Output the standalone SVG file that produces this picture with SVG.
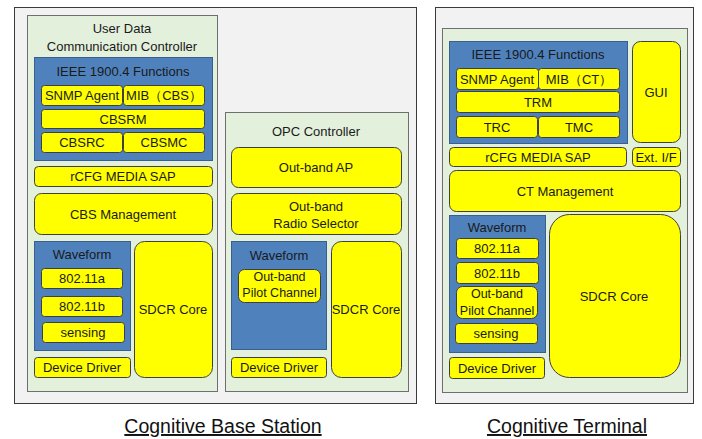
<svg xmlns="http://www.w3.org/2000/svg" width="702" height="439" viewBox="0 0 702 439">
<style>
.frame{fill:#f2f2f2;stroke:#3a3a3a;stroke-width:1}
.ctl{fill:#e3f0dc;stroke:#6f6f6f;stroke-width:1}
.blue{fill:#4f81bd;stroke:#3a5f8c;stroke-width:1}
.y{fill:#ffff00;stroke:#3f3f3f;stroke-width:1}
text{font-family:"Liberation Sans",Arial,sans-serif;font-size:13px;fill:#1a1a1a;text-anchor:middle;dominant-baseline:central}
.sm{font-size:12.5px}
.cap{font-size:19.5px;fill:#111;text-decoration:underline;dominant-baseline:alphabetic}
</style>
<rect width="702" height="439" fill="#ffffff"/>
<g id="base-station">
<rect class="frame" x="14.5" y="7.5" width="402" height="396"/>
<text class="cap" x="223" y="433">Cognitive Base Station</text>
</g>
<g id="udcc">
<rect class="ctl" x="27.5" y="15.5" width="190" height="376"/>
<text x="122" y="28">User Data</text>
<text x="122" y="46">Communication Controller</text>
</g>
<g id="ieee-cbs">
<rect class="blue" x="34.5" y="57.5" width="178" height="103"/>
<text x="123" y="71">IEEE 1900.4 Functions</text>
</g>
<g id="snmp-cbs"><rect class="y" x="41.5" y="85.5" width="81" height="20" rx="3"/><text x="82" y="95.5">SNMP Agent</text></g>
<g id="mib-cbs"><rect class="y" x="123.5" y="85.5" width="81" height="20" rx="3"/><text x="164" y="95.5">MIB（CBS）</text></g>
<g id="cbsrm"><rect class="y" x="41.5" y="109.5" width="163" height="19" rx="3"/><text x="123" y="119">CBSRM</text></g>
<g id="cbsrc"><rect class="y" x="41.5" y="132.5" width="81" height="20" rx="3"/><text x="82" y="142.5">CBSRC</text></g>
<g id="cbsmc"><rect class="y" x="123.5" y="132.5" width="81" height="20" rx="3"/><text x="164" y="142.5">CBSMC</text></g>
<g id="rcfg-cbs"><rect class="y" x="34.5" y="166.5" width="178" height="20" rx="4"/><text x="123" y="176.5">rCFG MEDIA SAP</text></g>
<g id="cbs-mgmt"><rect class="y" x="34.5" y="193.5" width="178" height="41" rx="7"/><text x="123" y="214">CBS Management</text></g>
<g id="wf-cbs">
<rect class="blue" x="34.5" y="241.5" width="96" height="109"/>
<text x="82" y="254">Waveform</text>
</g>
<g id="a-cbs"><rect class="y" x="41.5" y="268.5" width="81" height="20" rx="3"/><text x="82" y="278.5">802.11a</text></g>
<g id="b-cbs"><rect class="y" x="41.5" y="296.5" width="81" height="20" rx="3"/><text x="82" y="306.5">802.11b</text></g>
<g id="sens-cbs"><rect class="y" x="42.5" y="322.5" width="82" height="20" rx="3"/><text x="83" y="332.5">sensing</text></g>
<g id="dd-cbs"><rect class="y" x="34.5" y="357.5" width="96" height="20" rx="3"/><text x="82" y="367.5">Device Driver</text></g>
<g id="sdcr-cbs"><rect class="y" x="134.5" y="241.5" width="78" height="136" rx="10"/><text x="173" y="309">SDCR Core</text></g>
<g id="opc">
<rect class="ctl" x="225.5" y="112.5" width="183" height="279"/>
<text x="316" y="131">OPC Controller</text>
</g>
<g id="outband-ap"><rect class="y" x="231.5" y="147.5" width="170" height="40" rx="7"/><text x="316" y="167">Out-band AP</text></g>
<g id="radio-sel"><rect class="y" x="231.5" y="193.5" width="170" height="41" rx="7"/><text x="316" y="206">Out-band</text><text x="316" y="223">Radio Selector</text></g>
<g id="wf-opc">
<rect class="blue" x="231.5" y="241.5" width="95" height="108"/>
<text x="279" y="255">Waveform</text>
</g>
<g id="pilot-opc"><rect class="y" x="238.5" y="269.5" width="82" height="33" rx="6"/><text class="sm" x="279.5" y="277">Out-band</text><text class="sm" x="279.5" y="293">Pilot Channel</text></g>
<g id="dd-opc"><rect class="y" x="231.5" y="357.5" width="95" height="20" rx="3"/><text x="279" y="367.5">Device Driver</text></g>
<g id="sdcr-opc"><rect class="y" x="331.5" y="241.5" width="70" height="136" rx="10"/><text x="366" y="309">SDCR Core</text></g>
<g id="terminal">
<rect class="frame" x="435.5" y="7.5" width="258" height="396"/>
<text class="cap" x="567" y="433">Cognitive Terminal</text>
</g>
<g id="ct-ctl">
<rect class="ctl" x="442.5" y="28.5" width="245" height="364"/>
</g>
<g id="ieee-ct">
<rect class="blue" x="449.5" y="41.5" width="178" height="102"/>
<text x="538" y="54">IEEE 1900.4 Functions</text>
</g>
<g id="snmp-ct"><rect class="y" x="456.5" y="68.5" width="82" height="21" rx="3"/><text x="497" y="79">SNMP Agent</text></g>
<g id="mib-ct"><rect class="y" x="538.5" y="68.5" width="81" height="21" rx="3"/><text x="579" y="79">MIB（CT）</text></g>
<g id="trm"><rect class="y" x="456.5" y="91.5" width="163" height="21" rx="3"/><text x="538" y="102">TRM</text></g>
<g id="trc"><rect class="y" x="456.5" y="116.5" width="81" height="21" rx="3"/><text x="497" y="127">TRC</text></g>
<g id="tmc"><rect class="y" x="538.5" y="116.5" width="81" height="21" rx="3"/><text x="579" y="127">TMC</text></g>
<g id="gui"><rect class="y" x="632.5" y="41.5" width="48" height="101" rx="8"/><text x="656" y="92">GUI</text></g>
<g id="rcfg-ct"><rect class="y" x="449.5" y="147.5" width="177" height="19" rx="4"/><text x="538" y="157">rCFG MEDIA SAP</text></g>
<g id="ext-if"><rect class="y" x="632.5" y="147.5" width="48" height="19" rx="4"/><text x="656" y="157">Ext. I/F</text></g>
<g id="ct-mgmt"><rect class="y" x="449.5" y="170.5" width="231" height="41" rx="7"/><text x="565" y="191">CT Management</text></g>
<g id="wf-ct">
<rect class="blue" x="449.5" y="215.5" width="96" height="137"/>
<text x="497" y="227">Waveform</text>
</g>
<g id="a-ct"><rect class="y" x="456.5" y="238.5" width="82" height="20" rx="3"/><text x="497" y="248.5">802.11a</text></g>
<g id="b-ct"><rect class="y" x="456.5" y="262.5" width="82" height="21" rx="3"/><text x="497" y="273">802.11b</text></g>
<g id="pilot-ct"><rect class="y" x="456.5" y="286.5" width="81" height="32" rx="6"/><text class="sm" x="497" y="294">Out-band</text><text class="sm" x="497" y="311">Pilot Channel</text></g>
<g id="sens-ct"><rect class="y" x="455.5" y="323.5" width="82" height="20" rx="3"/><text x="496" y="333.5">sensing</text></g>
<g id="dd-ct"><rect class="y" x="449.5" y="357.5" width="95" height="21" rx="3"/><text x="497" y="368">Device Driver</text></g>
<g id="sdcr-ct"><rect class="y" x="549.5" y="214.5" width="131" height="163" rx="20"/><text x="614" y="296">SDCR Core</text></g>
</svg>
